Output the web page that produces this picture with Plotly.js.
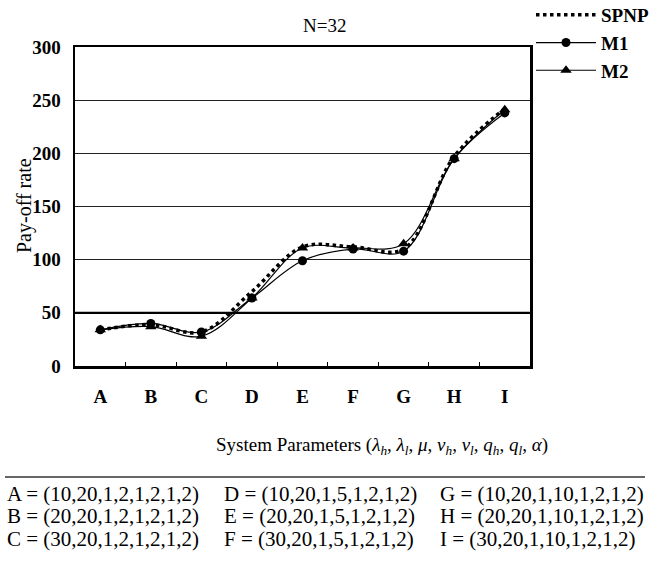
<!DOCTYPE html>
<html>
<head>
<meta charset="utf-8">
<script src="https://cdn.plot.ly/plotly-3.0.1.min.js"></script>
<style>html,body{margin:0;padding:0;background:#fff;}#chart{width:669px;height:561px;}</style>
</head>
<body>
<div id="chart"></div>
<script>
const categories = ["A","B","C","D","E","F","G","H","I"];
const spnp = [34, 39, 32, 70, 112, 112, 110, 197, 242];
const m1   = [34, 40, 32, 64, 99, 110, 108, 195, 238];
const m2   = [34, 37, 28, 64, 111, 111, 115, 195, 241];
const yTicks = [0, 50, 100, 150, 200, 250, 300];
const paramRows = [
  ["A = (10,20,1,2,1,2,1,2)", "D = (10,20,1,5,1,2,1,2)", "G = (10,20,1,10,1,2,1,2)"],
  ["B = (20,20,1,2,1,2,1,2)", "E = (20,20,1,5,1,2,1,2)", "H = (20,20,1,10,1,2,1,2)"],
  ["C = (30,20,1,2,1,2,1,2)", "F = (30,20,1,5,1,2,1,2)", "I = (30,20,1,10,1,2,1,2)"]
];

const serif = "Liberation Serif, Times New Roman, serif";
const L = 75, R = 530, T = 47, B = 366;
const px = x => (x - L) / (R - L);
const py = y => (B - y) / (B - T);

const traces = [
  {x: categories, y: spnp, name: "SPNP", type: "scatter", mode: "lines",
   line: {color: "#000", width: 3.5, dash: "dot", shape: "spline", smoothing: 1},
   legendgroup: "a"},
  {x: categories, y: m1, name: "M1", type: "scatter", mode: "lines+markers",
   line: {color: "#000", width: 1.2, shape: "spline", smoothing: 1},
   marker: {symbol: "circle", size: 9, color: "#000"}, legendgroup: "b"},
  {x: categories, y: m2, name: "M2", type: "scatter", mode: "lines+markers",
   line: {color: "#000", width: 1.2, shape: "spline", smoothing: 1},
   marker: {symbol: "triangle-up", size: 10, color: "#000"}, legendgroup: "c"}
];

const annotations = [
  {text: "N=32", xref: "paper", yref: "paper", x: px(324), y: py(26), showarrow: false,
   font: {family: serif, size: 19, color: "#000"}, xanchor: "center", yanchor: "middle"},
  {text: "Pay-off rate", xref: "paper", yref: "paper", x: px(24), y: py(206), showarrow: false,
   textangle: -90, font: {family: serif, size: 20, color: "#000"}, xanchor: "center", yanchor: "middle"},
  {text: "System Parameters (<i>λ<sub>h</sub></i>, <i>λ<sub>l</sub></i>, <i>μ</i>, <i>v<sub>h</sub></i>, <i>v<sub>l</sub></i>, <i>q<sub>h</sub></i>, <i>q<sub>l</sub></i>, <i>α</i>)",
   xref: "paper", yref: "paper", x: px(382), y: py(446), showarrow: false,
   font: {family: serif, size: 19, color: "#000"}, xanchor: "center", yanchor: "middle"}
];
const colX = [5, 222, 438];
const rowY = [494, 516, 539];
paramRows.forEach((row, i) => row.forEach((t, j) => {
  annotations.push({text: t, xref: "paper", yref: "paper", x: px(colX[j]), y: py(rowY[i]),
    showarrow: false, xanchor: "left", yanchor: "middle",
    font: {family: serif, size: 21, color: "#000"}});
}));

const layout = {
  width: 669, height: 561,
  margin: {l: L, r: 669 - R, t: T, b: 561 - B, autoexpand: false},
  paper_bgcolor: "#fff", plot_bgcolor: "#fff",
  showlegend: true,
  legend: {x: px(531), y: py(-4), xanchor: "left", yanchor: "top", itemwidth: 60,
    font: {family: serif, size: 19, color: "#000", weight: "bold"},
    traceorder: "grouped", tracegroupgap: 0, bgcolor: "rgba(0,0,0,0)", borderwidth: 0},
  xaxis: {type: "category", range: [-0.5, 8.5], showline: true, linecolor: "#000", linewidth: 2.5,
    mirror: true, showgrid: false, ticks: "inside", tickson: "boundaries", ticklen: 4, tickcolor: "#000",
    tickfont: {family: serif, size: 19, color: "#000", weight: "bold"}, ticklabelstandoff: 12,
    zeroline: false, fixedrange: true},
  yaxis: {range: [0, 300], tickvals: yTicks, showline: true, linecolor: "#000", linewidth: 2.5,
    mirror: true, showgrid: true, gridcolor: "#222", gridwidth: 1, ticks: "",
    tickfont: {family: serif, size: 19, color: "#000", weight: "bold"}, ticklabelstandoff: 8,
    zeroline: false, fixedrange: true},
  shapes: [
    {type: "line", xref: "paper", yref: "y", x0: 0, x1: 1, y0: 50, y1: 50,
     line: {color: "#000", width: 2.2}},
    {type: "line", xref: "paper", yref: "paper", x0: px(5), x1: px(645), y0: py(477), y1: py(477),
     line: {color: "#333", width: 1.5}}
  ],
  annotations: annotations
};

Plotly.newPlot("chart", traces, layout, {displayModeBar: false, staticPlot: true});
</script>
</body>
</html>
